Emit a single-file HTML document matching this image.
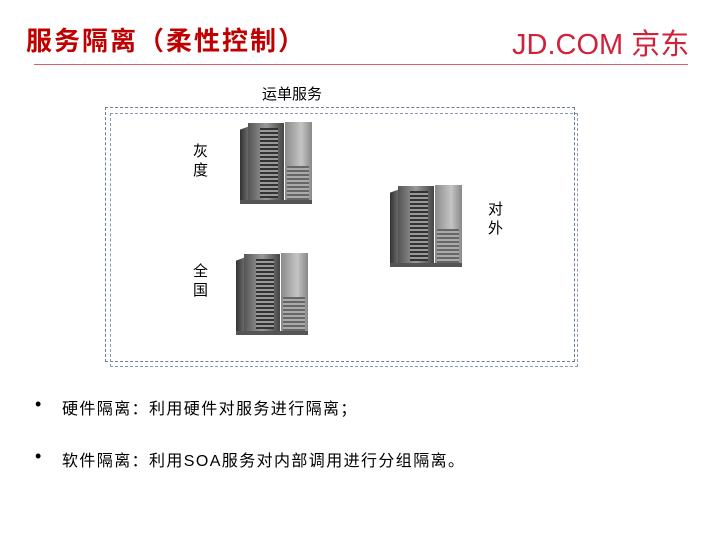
<!DOCTYPE html>
<html><head><meta charset="utf-8"><style>
body{margin:0;width:720px;height:540px;background:#fff;position:relative;overflow:hidden;font-family:"Liberation Sans","Noto Sans CJK SC",sans-serif}
.a{position:absolute}
.title{left:26px;top:21px;font-size:26px;font-weight:bold;color:#c00000;letter-spacing:2px;white-space:nowrap}
.logo{left:512px;top:21px;font-size:29px;color:#d0223a;letter-spacing:0px;white-space:nowrap}
.srv{position:absolute;width:78px;height:86px}
.srv .side{position:absolute;left:4px;top:6px;width:10px;height:74px;background:linear-gradient(90deg,#333,#777);transform:skewY(-20deg);transform-origin:right top}
.srv .front{position:absolute;left:12px;top:3px;width:36px;height:78px;background:linear-gradient(90deg,#555,#9a9a9a 50%,#444)}
.srv .grill{position:absolute;left:24px;top:8px;width:18px;height:70px;background:repeating-linear-gradient(180deg,#333 0 2px,#999 2px 4px)}
.srv .r{position:absolute;left:49px;top:2px;width:27px;height:80px;background:linear-gradient(90deg,#8a8a8a,#c5c5c5 60%,#888)}
.srv .r2{position:absolute;left:51px;top:46px;width:22px;height:34px;background:repeating-linear-gradient(180deg,#666 0 2px,#aaa 2px 4px)}
.srv .base{position:absolute;left:4px;top:80px;width:72px;height:4px;background:#555}
.v{font-size:15px;line-height:19px;width:16px;color:#000}
.b{font-size:16px;color:#000;letter-spacing:1.4px;white-space:nowrap}
.dot{font-size:18px}
</style></head><body>
<div class="a title">服务隔离（柔性控制）</div>
<div class="a logo">JD.COM 京东</div>
<div class="a" style="left:34px;top:64px;width:654px;height:1px;background:#d9606c"></div>
<div class="a" style="left:262px;top:83px;font-size:15px">运单服务</div>
<div class="a" style="left:105px;top:107px;width:468px;height:253px;border:1px dashed #6a7f95"></div>
<div class="a" style="left:110px;top:113px;width:466px;height:252px;border:1px dashed #8a9bb0"></div>

<div class="srv" style="left:236px;top:120px"><div class="side"></div><div class="front"></div><div class="grill"></div><div class="r"></div><div class="r2"></div><div class="base"></div></div>
<div class="srv" style="left:386px;top:183px"><div class="side"></div><div class="front"></div><div class="grill"></div><div class="r"></div><div class="r2"></div><div class="base"></div></div>
<div class="srv" style="left:232px;top:251px"><div class="side"></div><div class="front"></div><div class="grill"></div><div class="r"></div><div class="r2"></div><div class="base"></div></div>

<div class="a v" style="left:193px;top:142px">灰度</div>
<div class="a v" style="left:488px;top:200px">对外</div>
<div class="a v" style="left:193px;top:262px">全国</div>

<div class="a b dot" style="left:35px;top:394px">•</div>
<div class="a b" style="left:62px;top:395px">硬件隔离：利用硬件对服务进行隔离；</div>
<div class="a b dot" style="left:35px;top:446px">•</div>
<div class="a b" style="left:62px;top:447px">软件隔离：利用SOA服务对内部调用进行分组隔离。</div>
</body></html>
